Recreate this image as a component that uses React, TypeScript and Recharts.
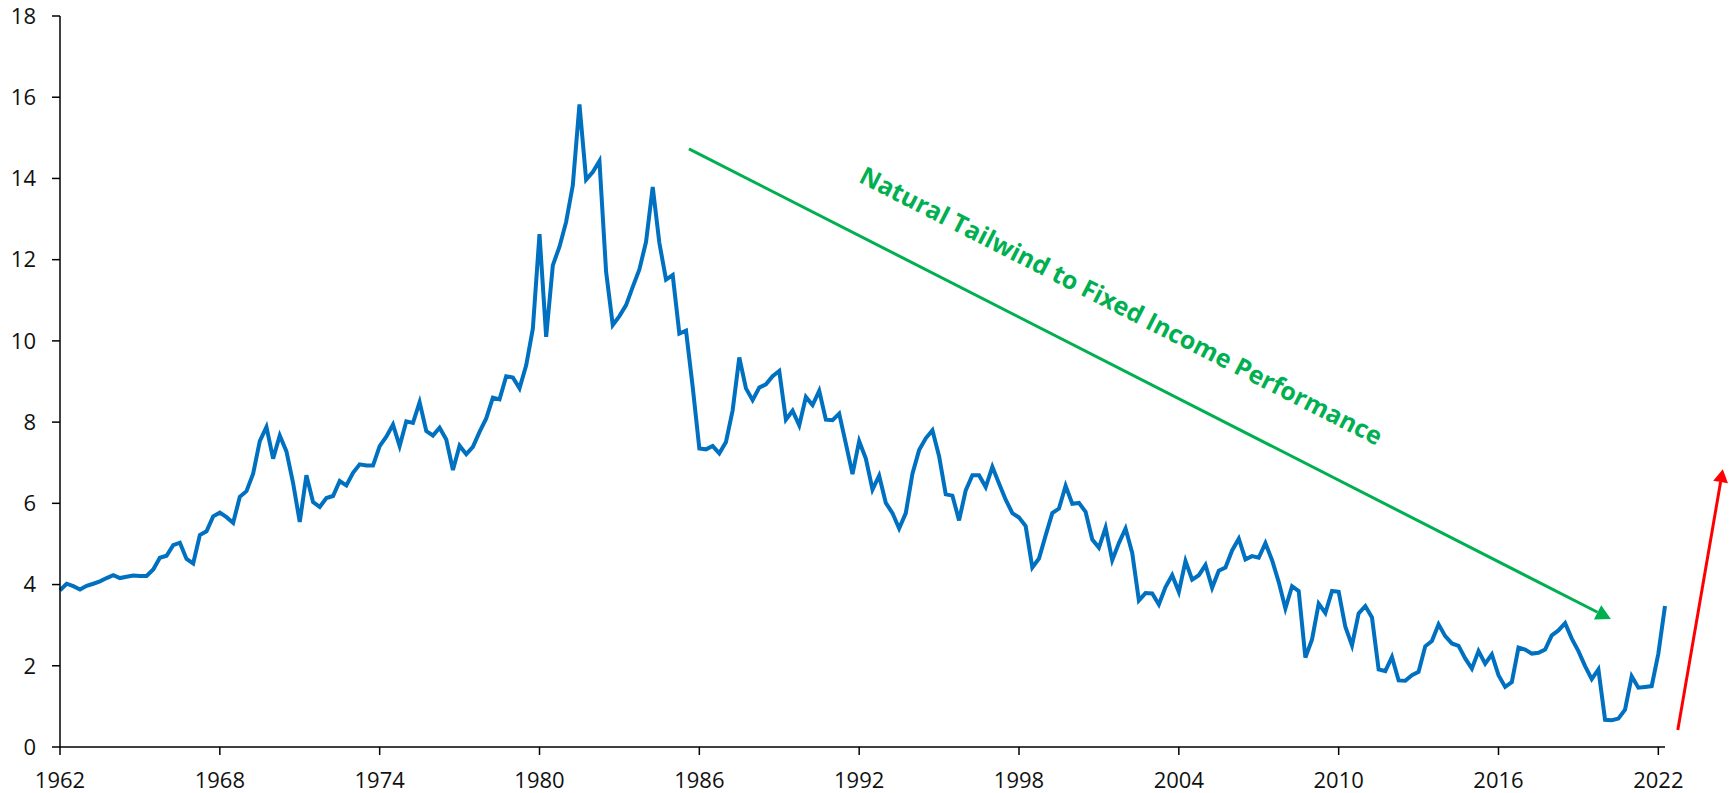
import { LineChart, Line, XAxis, YAxis, ReferenceLine, ReferenceDot } from 'recharts'

// quarterly 10y yield (%), first point = 1962 Q1
const startYear = 1962

const yields1962to1976 = [
  3.86, 4.02, 3.96, 3.88, 3.97, 4.02, 4.08, 4.16, 4.23, 4.16,
  4.19, 4.22, 4.21, 4.21, 4.37, 4.66, 4.71, 4.97, 5.03, 4.63,
  4.52, 5.22, 5.31, 5.68, 5.77, 5.66, 5.52, 6.16, 6.30, 6.73,
  7.53, 7.88, 7.10, 7.67, 7.28, 6.50, 5.54, 6.69, 6.03, 5.91,
  6.13, 6.18, 6.55, 6.44, 6.75, 6.96, 6.93, 6.93, 7.41, 7.64,
  7.94, 7.41, 8.02, 7.98, 8.49, 7.78, 7.67, 7.86, 7.57, 6.82,
]

const yields1977to1991 = [
  7.42, 7.21, 7.39, 7.76, 8.09, 8.60, 8.56, 9.13, 9.10, 8.83,
  9.40, 10.30, 12.63, 10.10, 11.86, 12.32, 12.93, 13.83, 15.82, 13.97,
  14.16, 14.43, 11.70, 10.39, 10.61, 10.88, 11.33, 11.76, 12.44, 13.79,
  12.41, 11.51, 11.62, 10.18, 10.25, 8.87, 7.35, 7.33, 7.41, 7.23,
  7.51, 8.29, 9.59, 8.83, 8.54, 8.85, 8.93, 9.13, 9.26, 8.06,
  8.28, 7.92, 8.62, 8.42, 8.77, 8.06, 8.05, 8.21, 7.47, 6.72,
]

const yields1992to2006 = [
  7.53, 7.10, 6.34, 6.68, 6.01, 5.76, 5.38, 5.76, 6.73, 7.31,
  7.60, 7.80, 7.16, 6.22, 6.19, 5.58, 6.32, 6.69, 6.69, 6.40,
  6.90, 6.49, 6.09, 5.76, 5.65, 5.44, 4.42, 4.64, 5.21, 5.76,
  5.87, 6.43, 5.99, 6.01, 5.79, 5.11, 4.91, 5.40, 4.60, 5.02,
  5.38, 4.78, 3.61, 3.79, 3.78, 3.51, 3.94, 4.23, 3.82, 4.58,
  4.12, 4.23, 4.48, 3.92, 4.34, 4.42, 4.84, 5.13, 4.62, 4.70,
]

const yields2007to2022 = [
  4.66, 5.02, 4.60, 4.06, 3.41, 3.96, 3.84, 2.20, 2.65, 3.53,
  3.30, 3.84, 3.82, 2.96, 2.50, 3.29, 3.47, 3.19, 1.91, 1.87,
  2.22, 1.64, 1.63, 1.77, 1.85, 2.48, 2.61, 3.02, 2.73, 2.55,
  2.49, 2.18, 1.93, 2.36, 2.05, 2.28, 1.77, 1.48, 1.60, 2.45,
  2.40, 2.30, 2.32, 2.40, 2.75, 2.87, 3.05, 2.67, 2.36, 1.99,
  1.67, 1.91, 0.67, 0.66, 0.70, 0.92, 1.74, 1.46, 1.48, 1.50,
  2.30, 3.47,
]

const yearTicks = [1962, 1968, 1974, 1980, 1986, 1992, 1998, 2004, 2010, 2016, 2022]
const yieldTicks = [0, 2, 4, 6, 8, 10, 12, 14, 16, 18]

// annotation anchors, in chart units (year, %)
const tailwindArrow = [{ x: 1985.61, y: 14.73 }, { x: 2020.22, y: 3.15 }]
const reboundArrow = [{ x: 2022.73, y: 0.42 }, { x: 2024.42, y: 6.84 }]
const tailwindLabel = { x: 2001.68, y: 10.67, text: 'Natural Tailwind to Fixed Income Performance' }

const allYields = [...yields1962to1976, ...yields1977to1991, ...yields1992to2006, ...yields2007to2022]
const data = allYields.map((v, i) => ({ t: startYear + i / 4, value: v }))

const BLUE = '#0070C0'
const GREEN = '#00B050'
const RED = '#FF0000'
const FONT = '"Open Sans", "Noto Sans", sans-serif'

function arrowShape(color: string, headLen: number, headHalf: number) {
  return (p: any) => {
    const { x1, y1, x2, y2 } = p
    const dx = x2 - x1
    const dy = y2 - y1
    const len = Math.hypot(dx, dy) || 1
    const ux = dx / len
    const uy = dy / len
    const bx = x2 - ux * headLen
    const by = y2 - uy * headLen
    const pts = `${x2},${y2} ${bx - uy * headHalf},${by + ux * headHalf} ${bx + uy * headHalf},${by - ux * headHalf}`
    return (
      <g>
        <line x1={x1} y1={y1} x2={bx} y2={by} stroke={color} strokeWidth={3} />
        <polygon points={pts} fill={color} />
      </g>
    )
  }
}

const tickStyle = { fill: '#111', fontSize: 22, fontFamily: FONT }

export default function App() {
  return (
    <div style={{ position: 'absolute', left: 0, top: 0, width: 1729, height: 793, background: '#fff' }}>
      <LineChart width={1729} height={793} data={data} margin={{ top: 16, right: 64, left: 0, bottom: 0 }}>
        <XAxis
          dataKey="t"
          type="number"
          domain={[startYear, 2022.25]}
          ticks={yearTicks}
          interval={0}
          height={46}
          tick={tickStyle}
          tickSize={8}
          tickMargin={17}
          axisLine={{ stroke: '#000', strokeWidth: 1.5 }}
          tickLine={{ stroke: '#000', strokeWidth: 1.5 }}
        />
        <YAxis
          type="number"
          domain={[0, 18]}
          ticks={yieldTicks}
          interval={0}
          width={60}
          tick={tickStyle}
          tickSize={8}
          tickMargin={16}
          axisLine={{ stroke: '#000', strokeWidth: 1.5 }}
          tickLine={{ stroke: '#000', strokeWidth: 1.5 }}
        />
        <Line
          type="linear"
          dataKey="value"
          stroke={BLUE}
          strokeWidth={4}
          dot={false}
          activeDot={false}
          isAnimationActive={false}
        />
        <ReferenceLine
          segment={tailwindArrow}
          ifOverflow="visible"
          shape={arrowShape(GREEN, 15, 8)}
        />
        <ReferenceLine
          segment={reboundArrow}
          ifOverflow="visible"
          shape={arrowShape(RED, 13, 7.5)}
        />
        <ReferenceDot
          x={tailwindLabel.x}
          y={tailwindLabel.y}
          ifOverflow="visible"
          shape={(p: any) => (
            <text
              x={p.cx}
              y={p.cy}
              transform={`rotate(27 ${p.cx} ${p.cy})`}
              textAnchor="middle"
              fill={GREEN}
              fontSize={25}
              fontWeight={700}
              fontFamily={FONT}
            >
              {tailwindLabel.text}
            </text>
          )}
        />
      </LineChart>
    </div>
  )
}
